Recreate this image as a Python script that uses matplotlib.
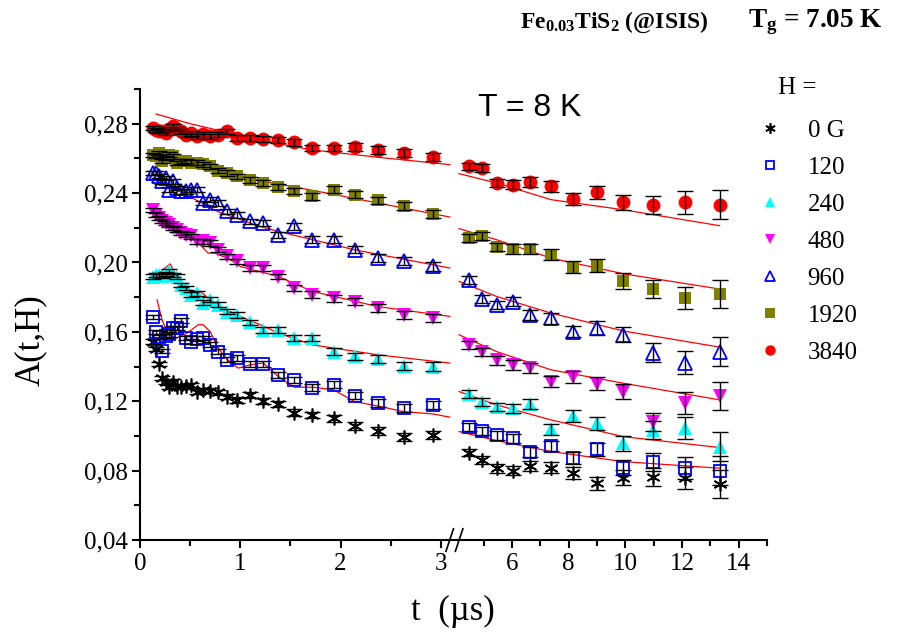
import numpy as np
import matplotlib
matplotlib.use('Agg')
import matplotlib.pyplot as plt
from matplotlib.ticker import FixedLocator, FuncFormatter

plt.rcParams['font.family'] = ['Liberation Serif', 'DejaVu Serif']
plt.rcParams['mathtext.fontset'] = 'custom'
plt.rcParams['mathtext.rm'] = 'Liberation Serif:bold'
plt.rcParams['mathtext.bf'] = 'Liberation Serif:bold'
plt.rcParams['mathtext.it'] = 'Liberation Serif:bold:italic'

# time bins (us), left part of broken axis and right part
t_left = [0.13, 0.16, 0.19, 0.22, 0.26, 0.29, 0.33, 0.37, 0.41, 0.46, 0.51, 0.57, 0.63, 0.70,
          0.78, 0.87, 0.97, 1.10, 1.23, 1.38, 1.54, 1.72, 1.93, 2.14, 2.37, 2.63, 2.92]
t_right = [4.48, 4.94, 5.47, 6.04, 6.64, 7.38, 8.16, 9.00, 9.93, 10.96, 12.09, 13.33]

err_left = [0.0012, 0.0012, 0.0012, 0.0012, 0.0012, 0.0013, 0.0013, 0.0013, 0.0013, 0.0013,
            0.0014, 0.0014, 0.0014, 0.0015, 0.0015, 0.0015, 0.0016, 0.0016, 0.0017, 0.0017,
            0.0018, 0.0019, 0.0020, 0.0021, 0.0022, 0.0023, 0.0025]
err_right = [0.0022, 0.0023, 0.0025, 0.0027, 0.0029, 0.0031, 0.0034, 0.0038, 0.0044, 0.0052,
             0.0064, 0.0082]

# asymmetry A(t,H) for each field
a_0g = [0.1544, 0.1500, 0.1416, 0.1333, 0.1313, 0.1281, 0.1313, 0.1281, 0.1281, 0.1289, 0.1294,
        0.1256, 0.1262, 0.1260, 0.1252, 0.1227, 0.1208, 0.1237, 0.1202, 0.1185, 0.1135, 0.1121,
        0.1102, 0.1058, 0.1029, 0.0996, 0.1006,
        0.0904, 0.0862, 0.0814, 0.0800, 0.0827, 0.0817, 0.0788, 0.0727, 0.0759, 0.0765, 0.0756, 0.0723]
a_120 = [0.1685, 0.1600, 0.1570, 0.1491, 0.1577, 0.1585, 0.1622, 0.1622, 0.1665, 0.1564, 0.1544,
         0.1560, 0.1565, 0.1525, 0.1486, 0.1439, 0.1448, 0.1416, 0.1416, 0.1352, 0.1323, 0.1279,
         0.1294, 0.1233, 0.1189, 0.1163, 0.1179,
         0.1050, 0.1031, 0.1004, 0.0987, 0.0906, 0.0942, 0.0873, 0.0923, 0.0817, 0.0848, 0.0814, 0.0800]
a_240 = [0.1919, 0.1929, 0.1929, 0.1923, 0.1935, 0.1948, 0.1929, 0.1919, 0.1871, 0.1852, 0.1814,
         0.1823, 0.1769, 0.1785, 0.1756, 0.1717, 0.1698, 0.1654, 0.1612, 0.1612, 0.1564, 0.1564,
         0.1486, 0.1458, 0.1443, 0.1406, 0.1400,
         0.1242, 0.1198, 0.1166, 0.1160, 0.1185, 0.1039, 0.1115, 0.1073, 0.0958, 0.1035, 0.1044, 0.0938]
a_480 = [0.2304, 0.2275, 0.2256, 0.2237, 0.2227, 0.2217, 0.2199, 0.2189, 0.2170, 0.2160, 0.2150,
         0.2121, 0.2121, 0.2112, 0.2073, 0.2035, 0.2006, 0.1968, 0.1968, 0.1919, 0.1852, 0.1814,
         0.1795, 0.1775, 0.1737, 0.1698, 0.1679,
         0.1525, 0.1486, 0.1435, 0.1410, 0.1391, 0.1313, 0.1339, 0.1300, 0.1256, 0.1083, 0.1189, 0.1231]
a_960 = [0.2516, 0.2516, 0.2500, 0.2467, 0.2487, 0.2420, 0.2467, 0.2429, 0.2410, 0.2410, 0.2420,
         0.2420, 0.2343, 0.2362, 0.2343, 0.2295, 0.2275, 0.2237, 0.2227, 0.2160, 0.2208, 0.2131,
         0.2131, 0.2073, 0.2025, 0.2006, 0.1977,
         0.1900, 0.1789, 0.1754, 0.1775, 0.1698, 0.1679, 0.1602, 0.1622, 0.1583, 0.1481, 0.1423, 0.1486]
a_1920 = [0.2622, 0.2612, 0.2631, 0.2583, 0.2602, 0.2622, 0.2612, 0.2574, 0.2583, 0.2585, 0.2574,
          0.2574, 0.2565, 0.2554, 0.2530, 0.2516, 0.2496, 0.2477, 0.2458, 0.2435, 0.2410, 0.2381,
          0.2420, 0.2391, 0.2358, 0.2323, 0.2279,
          0.2141, 0.2154, 0.2089, 0.2077, 0.2077, 0.2044, 0.1973, 0.1981, 0.1893, 0.1847, 0.1795, 0.1818]
a_3840 = [0.2775, 0.2766, 0.2760, 0.2756, 0.2747, 0.2770, 0.2785, 0.2770, 0.2756, 0.2735, 0.2745,
          0.2727, 0.2740, 0.2727, 0.2737, 0.2756, 0.2718, 0.2718, 0.2712, 0.2704, 0.2692, 0.2660,
          0.2660, 0.2666, 0.2650, 0.2631, 0.2608,
          0.2554, 0.2545, 0.2458, 0.2448, 0.2464, 0.2439, 0.2366, 0.2404, 0.2346, 0.2331, 0.2346, 0.2333]

# fitted curves (red lines), read at a few times, left and right segment
fit_120_tl = [0.17, 0.22, 0.28, 0.37, 0.47, 0.58, 0.63, 0.70, 0.77, 0.87, 0.98, 1.10, 1.23, 1.38,
              1.54, 1.72, 1.93, 2.14, 2.37, 2.63, 2.92, 3.09]
fit_120_al = [0.1785, 0.1669, 0.1583, 0.1564, 0.1593, 0.1641, 0.1641, 0.1602, 0.1515, 0.1439,
              0.1391, 0.1410, 0.1420, 0.1342, 0.1281, 0.1281, 0.1266, 0.1198, 0.1173, 0.1140,
              0.1127, 0.1108]
fit_240_tl = [0.13, 0.18, 0.30, 0.40, 0.48, 0.60, 0.70, 0.78, 0.90, 1.00, 1.20, 1.38, 1.72, 2.37, 3.09]
fit_240_al = [0.1939, 0.1935, 0.1992, 0.1890, 0.1820, 0.1833, 0.1785, 0.1730, 0.1717, 0.1689,
              0.1641, 0.1593, 0.1525, 0.1468, 0.1420]
fit_480_tl = [0.15, 0.22, 0.27, 0.33, 0.40, 0.50, 0.68, 0.75, 0.90, 1.00, 1.38, 1.72, 2.37, 3.09]
fit_480_al = [0.2285, 0.2208, 0.2208, 0.2189, 0.2150, 0.2160, 0.2054, 0.2054, 0.2016, 0.1977,
              0.1919, 0.1833, 0.1746, 0.1689]
fit_960_tl = [0.17, 0.43, 0.77, 1.18, 1.38, 2.14, 3.09]
fit_960_al = [0.2467, 0.2400, 0.2295, 0.2210, 0.2179, 0.2073, 0.1968]
fit_1920_tl = [0.15, 0.33, 0.67, 0.90, 1.30, 1.72, 2.37, 3.09]
fit_1920_al = [0.2650, 0.2595, 0.2540, 0.2510, 0.2460, 0.2416, 0.2343, 0.2262]
fit_3840_tl = [0.16, 0.50, 0.90, 1.30, 1.70, 2.40, 3.09]
fit_3840_al = [0.2856, 0.2800, 0.2746, 0.2695, 0.2650, 0.2605, 0.2564]

fit_tr = [4.13, 5.46, 7.38, 9.93, 13.33]
fit_120_ar = [0.1025, 0.0973, 0.0910, 0.0852, 0.0814]
fit_240_ar = [0.1256, 0.1179, 0.1092, 0.0996, 0.0933]
fit_480_ar = [0.1583, 0.1486, 0.1381, 0.1304, 0.1208]
fit_960_ar = [0.1891, 0.1804, 0.1708, 0.1605, 0.1512]
fit_1920_ar = [0.2195, 0.2131, 0.2025, 0.1935, 0.1847]
fit_3840_ar = [0.2512, 0.2458, 0.2362, 0.2304, 0.2212]

labels = ['0 G', '120', '240', '480', '960', '1920', '3840']


# broken time axis: 0..3.1 linear, 3.1..4 squeezed, 4..15 compressed
def fwd(x):
    x = np.asarray(x, dtype=float)
    return np.where(x <= 3.1, x,
                    np.where(x <= 4, 3.1 + (x - 3.1) * 0.05, 3.145 + (x - 4) * 0.2825))


def inv(u):
    u = np.asarray(u, dtype=float)
    return np.where(u <= 3.1, u,
                    np.where(u <= 3.145, 3.1 + (u - 3.1) / 0.05, 4 + (u - 3.145) / 0.2825))


fig = plt.figure(figsize=(9.02, 6.39), dpi=100)
ax = fig.add_axes([0.1552, 0.1549, 0.6951, 0.7058])
ax.set_xscale('function', functions=(fwd, inv))

t_all = t_left + t_right
err_all = err_left + err_right

styles = [
    dict(marker=(6, 2, 0), color='black', ms=10, mew=1.2),
    dict(marker='s', color='blue', mfc='none', mec='blue', ms=8, mew=1.3),
    dict(marker='^', color='cyan', ms=10, mew=0),
    dict(marker='v', color='magenta', ms=10, mew=0),
    dict(marker='^', color='blue', mfc='none', mec='blue', ms=10, mew=1.3),
    dict(marker='s', color='olive', ms=9, mew=0),
    dict(marker='o', color='red', ms=10, mew=0),
]
all_a = [a_0g, a_120, a_240, a_480, a_960, a_1920, a_3840]

for a, lab, st in zip(all_a, labels, styles):
    ax.plot(t_all, a, ls='none', label=lab, zorder=2, **st)
    ax.errorbar(t_all, a, yerr=err_all, fmt='none', ecolor='black', elinewidth=1,
                capsize=6, capthick=1, zorder=3)

fits_left = [(fit_120_tl, fit_120_al), (fit_240_tl, fit_240_al), (fit_480_tl, fit_480_al),
             (fit_960_tl, fit_960_al), (fit_1920_tl, fit_1920_al), (fit_3840_tl, fit_3840_al)]
fits_right = [fit_120_ar, fit_240_ar, fit_480_ar, fit_960_ar, fit_1920_ar, fit_3840_ar]
for (ft, fa), far in zip(fits_left, fits_right):
    ax.plot(ft, fa, color='red', lw=0.9, zorder=1)
    ax.plot(fit_tr, far, color='red', lw=0.9, zorder=1)

ax.set_xlim(0, 15)
ax.set_ylim(0.04, 0.30)
ax.xaxis.set_major_locator(FixedLocator([0, 1, 2, 3, 6, 8, 10, 12, 14]))
ax.xaxis.set_minor_locator(FixedLocator([0.5, 1.5, 2.5, 5, 7, 9, 11, 13, 15]))
ax.xaxis.set_major_formatter(FuncFormatter(lambda v, p: f'{v:g}'))
ax.yaxis.set_major_locator(FixedLocator([0.04, 0.08, 0.12, 0.16, 0.20, 0.24, 0.28]))
ax.yaxis.set_minor_locator(FixedLocator([0.06, 0.10, 0.14, 0.18, 0.22, 0.26, 0.30]))
ax.yaxis.set_major_formatter(FuncFormatter(lambda v, p: f'{v:.2f}'.replace('.', ',')))

ax.spines['top'].set_visible(False)
ax.spines['right'].set_visible(False)
ax.spines['left'].set_linewidth(1.5)
ax.spines['bottom'].set_linewidth(1.5)
ax.tick_params(which='major', direction='out', length=6, width=1.5, labelsize=18, pad=3)
ax.tick_params(which='minor', direction='out', length=4, width=1.5)

# axis break mark
for xf in (0.494, 0.509):
    ax.plot([xf - 0.006, xf + 0.006], [-0.025, 0.025], color='black', lw=1.2,
            transform=ax.transAxes, clip_on=False)

ax.set_xlabel('t  (\u00b5s)', fontsize=25)
ax.xaxis.set_label_coords(0.499, -0.122)
ax.set_ylabel('A(t,H)', fontsize=25)
ax.yaxis.set_label_coords(-0.148, 0.443)

ax.text(0.622, 0.958, 'T = 8 K', transform=ax.transAxes, ha='center', va='center',
        fontsize=23, family='Liberation Sans')

fig.text(0.576, 0.965, r'Fe$_{0.03}$TiS$_2$ (@ISIS)', fontsize=17, fontweight='bold',
         ha='left', va='center')
fig.text(0.829, 0.965, r'T$_\mathrm{g}$ = 7.05 K', fontsize=19.5, fontweight='bold',
         ha='left', va='center')

# legend header and legend
fig.text(0.862, 1 - 88 / 639, 'H =', fontsize=18, ha='left', va='center')
leg = ax.legend(loc='upper left', bbox_to_anchor=(0.815, 0.848), bbox_transform=fig.transFigure,
                frameon=False, fontsize=18, labelspacing=0.58,
                handletextpad=1.0, handlelength=1.0, markerscale=0.75)

fig.savefig('out.png', dpi=100)
